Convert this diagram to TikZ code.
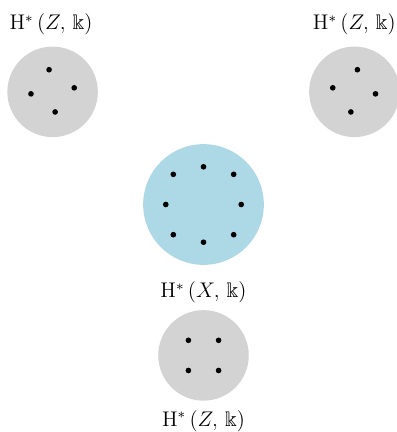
\documentclass[tikz,border=0pt]{standalone}
\usepackage{amssymb}
\definecolor{zgray}{RGB}{211,211,211}
\definecolor{xblue}{RGB}{173,216,230}
\tikzset{
  zdisc/.style={circle, fill=zgray, minimum size=1.8cm, inner sep=0pt},
  xdisc/.style={circle, fill=xblue, minimum size=2.4cm, inner sep=0pt},
  hlab/.style={font=\fontsize{12}{14}\selectfont}
}
\newcommand{\hlabel}[1]{$\mathrm{H}^*\,(#1,\,\Bbbk)$}
\begin{document}
\begin{tikzpicture}
        \useasboundingbox (-4.046,-4.523) rectangle (3.847,4.066);

        % Left disc
        \node[zdisc] (zl) at (-3,2.24) {};
        \node[hlab] (zllab) at (-3.03,3.58) {\hlabel{Z}};
        \fill ([shift={(-0.07,0.44)}]zl.center) circle (1.6pt);
        \fill ([shift={(0.43,0.08)}]zl.center) circle (1.6pt);
        \fill ([shift={(-0.43,-0.04)}]zl.center) circle (1.6pt);
        \fill ([shift={(0.05,-0.4)}]zl.center) circle (1.6pt);

        % Right disc
        \node[zdisc] (zr) at (3,2.24) {};
        \node[hlab] (zrlab) at (3,3.58) {\hlabel{Z}};
        \fill ([shift={(0.06,0.44)}]zr.center) circle (1.6pt);
        \fill ([shift={(0.42,-0.04)}]zr.center) circle (1.6pt);
        \fill ([shift={(-0.43,0.08)}]zr.center) circle (1.6pt);
        \fill ([shift={(-0.07,-0.4)}]zr.center) circle (1.6pt);

        % Middle disc
        \node[xdisc] (x) at (0,0) {};
        \node[hlab] (xlab) at (0,-1.75) {\hlabel{X}};
        \fill ([shift={(0,0.75)}]x.center) circle (1.6pt);
        \fill ([shift={(0,-0.75)}]x.center) circle (1.6pt);
        \fill ([shift={(0.75,0)}]x.center) circle (1.6pt);
        \fill ([shift={(-0.75,0)}]x.center) circle (1.6pt);
        \fill ([shift={(0.6,0.6)}]x.center) circle (1.6pt);
        \fill ([shift={(-0.6,0.6)}]x.center) circle (1.6pt);
        \fill ([shift={(0.6,-0.6)}]x.center) circle (1.6pt);
        \fill ([shift={(-0.6,-0.6)}]x.center) circle (1.6pt);

        % Bottom disc
        \node[zdisc] (zb) at (0,-3) {};
        \node[hlab] (zblab) at (0,-4.30) {\hlabel{Z}};
        \fill ([shift={(-0.3,0.3)}]zb.center) circle (1.6pt);
        \fill ([shift={(0.3,0.3)}]zb.center) circle (1.6pt);
        \fill ([shift={(-0.3,-0.3)}]zb.center) circle (1.6pt);
        \fill ([shift={(0.3,-0.3)}]zb.center) circle (1.6pt);
    \end{tikzpicture}
\end{document}
